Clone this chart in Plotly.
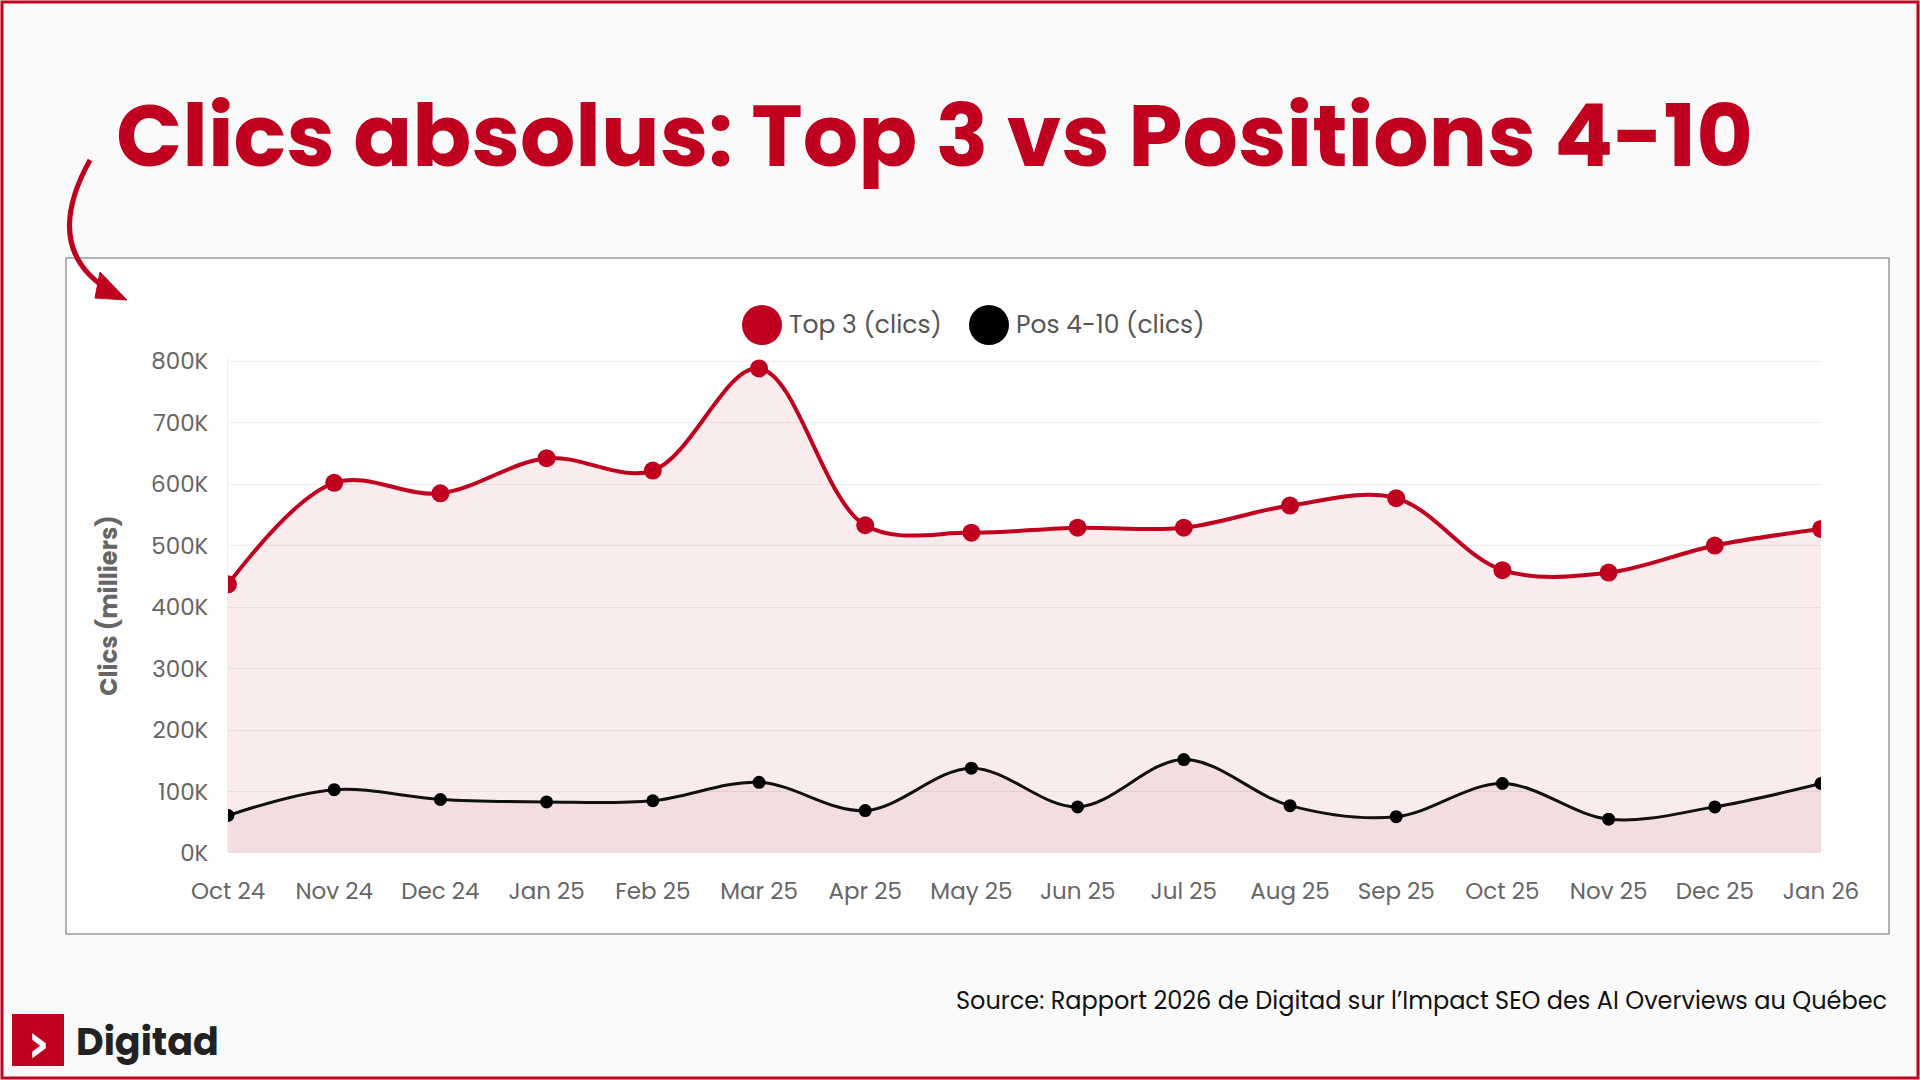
import plotly.graph_objects as go

months = ["Oct 24","Nov 24","Dec 24","Jan 25","Feb 25","Mar 25","Apr 25","May 25",
          "Jun 25","Jul 25","Aug 25","Sep 25","Oct 25","Nov 25","Dec 25","Jan 26"]
top3 = [437,602,585,642,622,788,533,521,529,529,565,577,460,456,500,527]
pos410 = [61,103,87,83,85,115,69,138,75,152,77,59,113,55,75,113]
yticks = [0,100,200,300,400,500,600,700,800]
ytick_labels = [f"{v}K" for v in yticks]
series_names = ["Top 3 (clics)", "Pos 4-10 (clics)"]

W, H = 1920, 1080
L, R, T, B = 228, 99, 358, 227
PW, PH = W - L - R, H - T - B
def px(x): return (x - L) / PW
def py(y): return (H - B - y) / PH

RED = "#C0001F"
fig = go.Figure()
fig.add_trace(go.Scatter(x=months, y=top3, name=series_names[0], mode="lines+markers", showlegend=False,
    line=dict(color=RED, width=4, shape="spline", smoothing=1),
    marker=dict(color=RED, size=18), fill="tozeroy", fillcolor="rgba(192,0,31,0.08)"))
fig.add_trace(go.Scatter(x=months, y=pos410, name=series_names[1], mode="lines+markers", showlegend=False,
    line=dict(color="#111", width=3, shape="spline", smoothing=1),
    marker=dict(color="#000", size=13), fill="tozeroy", fillcolor="rgba(120,0,20,0.06)"))

def circ(cx, cy, r, c):
    return dict(type="circle", xref="paper", yref="paper", x0=px(cx-r), x1=px(cx+r),
                y0=py(cy+r), y1=py(cy-r), fillcolor=c, line=dict(width=0))

shapes = [
    dict(type="rect", xref="paper", yref="paper", x0=px(2), x1=px(W-2), y0=py(H-2), y1=py(2),
         line=dict(color=RED, width=3), fillcolor="rgba(0,0,0,0)", layer="below"),
    dict(type="rect", xref="paper", yref="paper", x0=px(66), x1=px(1889), y0=py(934), y1=py(258),
         line=dict(color="#999", width=1.5), fillcolor="white", layer="below"),
    dict(type="path", xref="paper", yref="paper",
         path=f"M {px(90)} {py(160)} Q {px(40)} {py(250)} {px(112)} {py(292)}",
         line=dict(color=RED, width=5)),
    dict(type="path", xref="paper", yref="paper",
         path=f"M {px(100)} {py(272)} L {px(127)} {py(300)} L {px(95)} {py(298)} Z",
         fillcolor=RED, line=dict(color=RED, width=1)),
    dict(type="rect", xref="paper", yref="paper", x0=px(12), x1=px(64), y0=py(1066), y1=py(1014),
         fillcolor=RED, line=dict(width=0)),
    circ(762, 325, 20, RED),
    circ(989, 325, 20, "#000"),
]
ann = [
    dict(text="<b>Clics absolus: Top 3 vs Positions 4-10</b>", x=px(114), y=py(135), xref="paper", yref="paper",
         xanchor="left", yanchor="middle", showarrow=False, font=dict(size=87, color=RED, family="Poppins, Inter")),
    dict(text="Source: Rapport 2026 de Digitad sur l’Impact SEO des AI Overviews au Québec",
         x=px(1889), y=py(1000), xref="paper", yref="paper", xanchor="right", yanchor="middle",
         showarrow=False, font=dict(size=24, color="#111", family="Poppins, Inter")),
    dict(text="<b>›</b>", x=px(38), y=py(1042), xref="paper", yref="paper", showarrow=False,
         xanchor="center", yanchor="middle",
         font=dict(size=56, color="white", family="DejaVu Sans")),
    dict(text="<b>Digitad</b>", x=px(74), y=py(1041), xref="paper", yref="paper", xanchor="left",
         yanchor="middle", showarrow=False, font=dict(size=38, color="#222", family="Poppins, Inter")),
    dict(text=series_names[0], x=px(787), y=py(324), xref="paper", yref="paper", xanchor="left",
         yanchor="middle", showarrow=False, font=dict(size=25, color="#555")),
    dict(text=series_names[1], x=px(1014), y=py(324), xref="paper", yref="paper", xanchor="left",
         yanchor="middle", showarrow=False, font=dict(size=25, color="#555")),
]
fig.update_layout(
    width=W, height=H, margin=dict(l=L, r=R, t=T, b=B),
    paper_bgcolor="#FAFAFA", plot_bgcolor="white",
    font=dict(family="Poppins, Inter", color="#666", size=22),
    shapes=shapes, annotations=ann, showlegend=False,
    xaxis=dict(showgrid=False, showline=False, ticks="", ticklabelstandoff=22,
               tickfont=dict(size=23, color="#666")),
    yaxis=dict(range=[0, 805], tickvals=yticks, ticktext=ytick_labels, gridcolor="#EEE",
               zeroline=False, showline=True, linecolor="#EEE", ticklabelstandoff=14,
               tickfont=dict(size=23, color="#666"),
               title=dict(text="<b>Clics (milliers)</b>", font=dict(size=24, color="#666"), standoff=26)),
)
fig.write_html("out.html", config={"displayModeBar": False},
               post_script="document.body.style.margin='0';document.body.style.overflow='hidden';")
